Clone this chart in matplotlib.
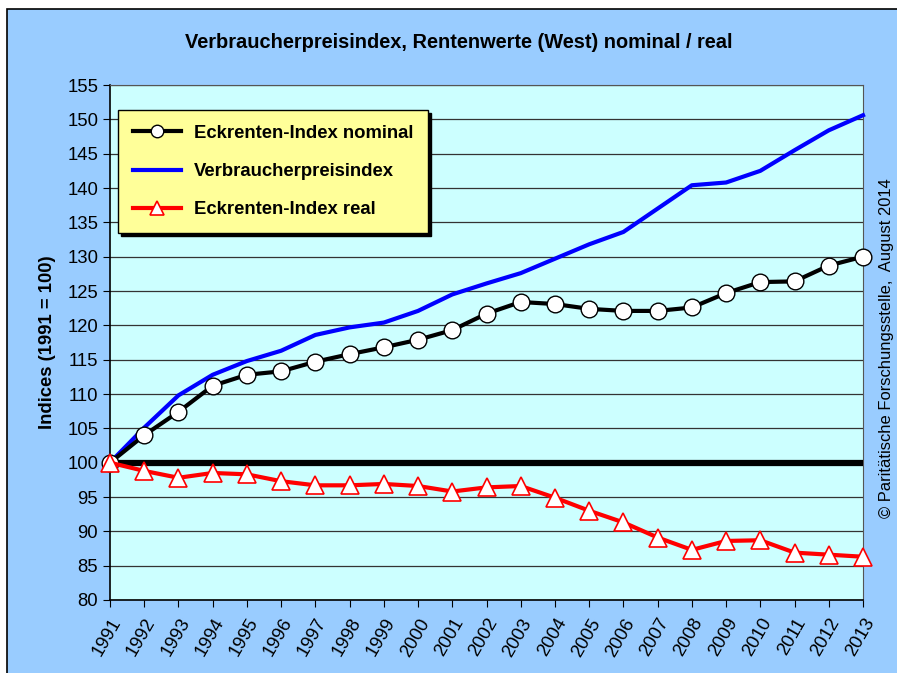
import numpy as np
import matplotlib.pyplot as plt
from matplotlib.patches import Rectangle

plt.rcParams['font.family'] = ['Liberation Sans', 'DejaVu Sans']

years = list(range(1991, 2014))
nominal = [100.0, 104.0, 107.4, 111.2, 112.8, 113.3, 114.7, 115.8, 116.8, 117.9,
           119.3, 121.7, 123.4, 123.1, 122.4, 122.1, 122.1, 122.6, 124.7, 126.3,
           126.4, 128.7, 130.0]
cpi = [100.0, 105.1, 109.8, 112.8, 114.8, 116.3, 118.6, 119.7, 120.4, 122.1,
       124.5, 126.1, 127.6, 129.7, 131.8, 133.6, 137.0, 140.4, 140.8, 142.5,
       145.5, 148.4, 150.6]
real = [100.0, 98.8, 97.8, 98.5, 98.3, 97.3, 96.7, 96.7, 96.9, 96.6,
        95.8, 96.4, 96.6, 94.9, 93.0, 91.3, 89.1, 87.3, 88.6, 88.7,
        86.9, 86.6, 86.3]

fig = plt.figure(figsize=(8.97, 6.73), dpi=100)
fig.patch.set_facecolor('white')
fig.patches.append(Rectangle((7 / 897, -0.05), 1.0, 1 - 9 / 673 + 0.05,
                             transform=fig.transFigure, facecolor='#99ccff',
                             edgecolor='black', linewidth=1.2, zorder=-10))

ax = fig.add_axes([110 / 897, 1 - 600 / 673, 753 / 897, 515 / 673])
ax.set_zorder(2)
ax.set_facecolor('#ccffff')

ax.set_xlim(1991, 2013)
ax.set_ylim(80, 155)
ax.set_yticks(np.arange(80, 156, 5))
ax.set_xticks(years)
ax.set_xticklabels([str(y) for y in years], rotation=60, ha='right',
                   rotation_mode='anchor', fontsize=13.3)
ax.tick_params(axis='y', labelsize=13.3, length=5, direction='out')
ax.tick_params(axis='x', length=5, direction='out', pad=6)
ax.grid(axis='y', color='#333333', linewidth=0.9)
ax.set_axisbelow(True)
for s in ['top', 'right']:
    ax.spines[s].set_color('#555555')
ax.spines['left'].set_linewidth(1.2)
ax.spines['bottom'].set_linewidth(1.2)

ax.axhline(100, color='black', linewidth=4.5, zorder=3)

l1, = ax.plot(years, nominal, color='black', linewidth=3, marker='o',
              markersize=12, markerfacecolor='white', markeredgecolor='black',
              markeredgewidth=1, zorder=5, clip_on=False,
              label='Eckrenten-Index nominal')
l2, = ax.plot(years, cpi, color='#0000ff', linewidth=3, zorder=4,
              clip_on=False, label='Verbraucherpreisindex')
l3, = ax.plot(years, real, color='#ff0000', linewidth=3, marker='^',
              markersize=13, markerfacecolor='white', markeredgecolor='#ff0000',
              markeredgewidth=1.2, zorder=6, clip_on=False,
              label='Eckrenten-Index real')

leg = ax.legend(handles=[l1, l2, l3], loc='upper left',
                bbox_to_anchor=(8 / 753, 1 - 25 / 515),
                prop={'weight': 'bold', 'size': 13.3}, frameon=True,
                fancybox=False, shadow={'color': 'black', 'alpha': 1},
                labelspacing=1.15, borderpad=0.8, handlelength=2.6,
                handletextpad=0.7, borderaxespad=0, markerscale=0.75)
leg.get_frame().set_facecolor('#ffff99')
leg.get_frame().set_edgecolor('black')
leg.get_frame().set_alpha(1)
leg.get_frame().set_linewidth(1)

ax.set_ylabel('Indices (1991 = 100)', fontsize=13.3, fontweight='bold',
              labelpad=8)
fig.text(459 / 897, 1 - 42 / 673,
         'Verbraucherpreisindex, Rentenwerte (West) nominal / real',
         ha='center', va='center', fontsize=14.4, fontweight='bold')
fig.text(886 / 897, 1 - 348 / 673,
         '\u00a9 Paritätische Forschungsstelle,  August 2014',
         rotation=90, ha='center', va='center', fontsize=11.9)

fig.savefig('out.png', dpi=100, facecolor=fig.get_facecolor())
